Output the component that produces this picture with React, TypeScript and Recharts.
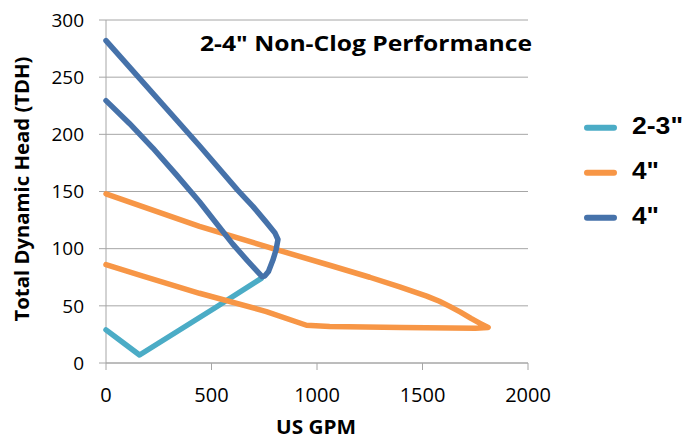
import React from "react";
import {
  ScatterChart,
  Scatter,
  XAxis,
  YAxis,
  CartesianGrid,
} from "recharts";

// 2-3" pump curve (gpm / head)
const tealGpm = [0, 80, 159, 523, 736];
const tealHead = [29, 18, 7, 49, 74];

// 4" curve: upper edge out to the tip, then back along the bottom edge
const orangeGpm = [0, 443, 784, 1060, 1250, 1392, 1520, 1580, 1629, 1680, 1730, 1775, 1811, 1750, 1400, 1060, 950, 760, 443, 175, 0];
const orangeHead = [148, 119.5, 100.5, 85.5, 75, 66.5, 58.5, 54, 49.5, 44.5, 39, 34.5, 31, 30.5, 31, 32, 33, 45, 61, 76, 86];

// 4" curve (high head): upper edge, rounded corner, lower edge
const blueGpm = [0, 159, 443, 625, 696, 760, 800, 815, 806, 791, 770, 752, 740, 720, 670, 601, 522, 443, 332, 222, 111, 0];
const blueHead = [282, 249, 190, 151, 137, 123, 114, 108, 99, 90, 80, 76, 75.5, 79.5, 89.5, 104, 122.5, 141, 165, 188, 209.5, 229.5];

const seriesNames = ['2-3"', '4"', '4"'];
const seriesColors = ["#4bacc6", "#f79646", "#4672aa"];

const xTicks = [0, 500, 1000, 1500, 2000];
const yTicks = [0, 50, 100, 150, 200, 250, 300];

const toPoints = (gpm: number[], head: number[]) =>
  gpm.map((x, i) => ({ x, y: head[i] }));

const series = [
  toPoints(tealGpm, tealHead),
  toPoints(orangeGpm, orangeHead),
  toPoints(blueGpm, blueHead),
];

const gridColor = "#a6a6a6";
const font = "'Open Sans', sans-serif";

export default function App() {
  return (
    <div
      style={{
        position: "absolute",
        left: 0,
        top: 0,
        width: 696,
        height: 439,
        background: "#fff",
      }}
    >
      <ScatterChart
        width={696}
        height={439}
        margin={{ top: 20, right: 168, bottom: 31, left: 0 }}
      >
        <CartesianGrid vertical={false} stroke={gridColor} />
        <XAxis
          type="number"
          dataKey="x"
          domain={[0, 2000]}
          ticks={xTicks}
          height={45}
          stroke={gridColor}
          tickSize={7}
          tickMargin={18}
          tick={{ fill: "#000", fontSize: 20, fontFamily: font }}
        />
        <YAxis
          type="number"
          dataKey="y"
          domain={[0, 300]}
          ticks={yTicks}
          width={106}
          stroke={gridColor}
          tickSize={7}
          tickMargin={15}
          tick={{ fill: "#000", fontSize: 19, fontFamily: font }}
        />
        {series.map((data, i) => (
          <Scatter
            key={i}
            name={seriesNames[i]}
            data={data}
            fill={seriesColors[i]}
            line={{
              stroke: seriesColors[i],
              strokeWidth: 5.5,
              strokeLinejoin: "round",
              strokeLinecap: "round",
            }}
            lineType="joint"
            shape={() => <g />}
            isAnimationActive={false}
          />
        ))}

        <text
          x={200}
          y={50.5}
          fontFamily={font}
          fontWeight={700}
          fontSize={20.5}
          textLength={332}
          lengthAdjust="spacingAndGlyphs"
          fill="#000"
        >
          2-4" Non-Clog Performance
        </text>
        <text
          transform="translate(28.5,189) rotate(-90)"
          textAnchor="middle"
          fontFamily={font}
          fontWeight={700}
          fontSize={19}
          textLength={265}
          lengthAdjust="spacingAndGlyphs"
          fill="#000"
        >
          Total Dynamic Head (TDH)
        </text>
        <text
          x={316}
          y={434}
          textAnchor="middle"
          fontFamily={font}
          fontWeight={700}
          fontSize={19.5}
          textLength={80}
          lengthAdjust="spacingAndGlyphs"
          fill="#000"
        >
          US GPM
        </text>

        {seriesNames.map((name, i) => (
          <g key={i}>
            <line
              x1={587}
              x2={614}
              y1={127.7 + i * 45}
              y2={127.7 + i * 45}
              stroke={seriesColors[i]}
              strokeWidth={6}
              strokeLinecap="round"
            />
            <text
              x={632}
              y={134.3 + i * 45}
              fontFamily="'Liberation Sans', Arial, sans-serif"
              fontWeight={700}
              fontSize={23}
              textLength={i === 0 ? 51 : 27}
              lengthAdjust="spacingAndGlyphs"
              fill="#000"
            >
              {name}
            </text>
          </g>
        ))}
      </ScatterChart>
    </div>
  );
}
